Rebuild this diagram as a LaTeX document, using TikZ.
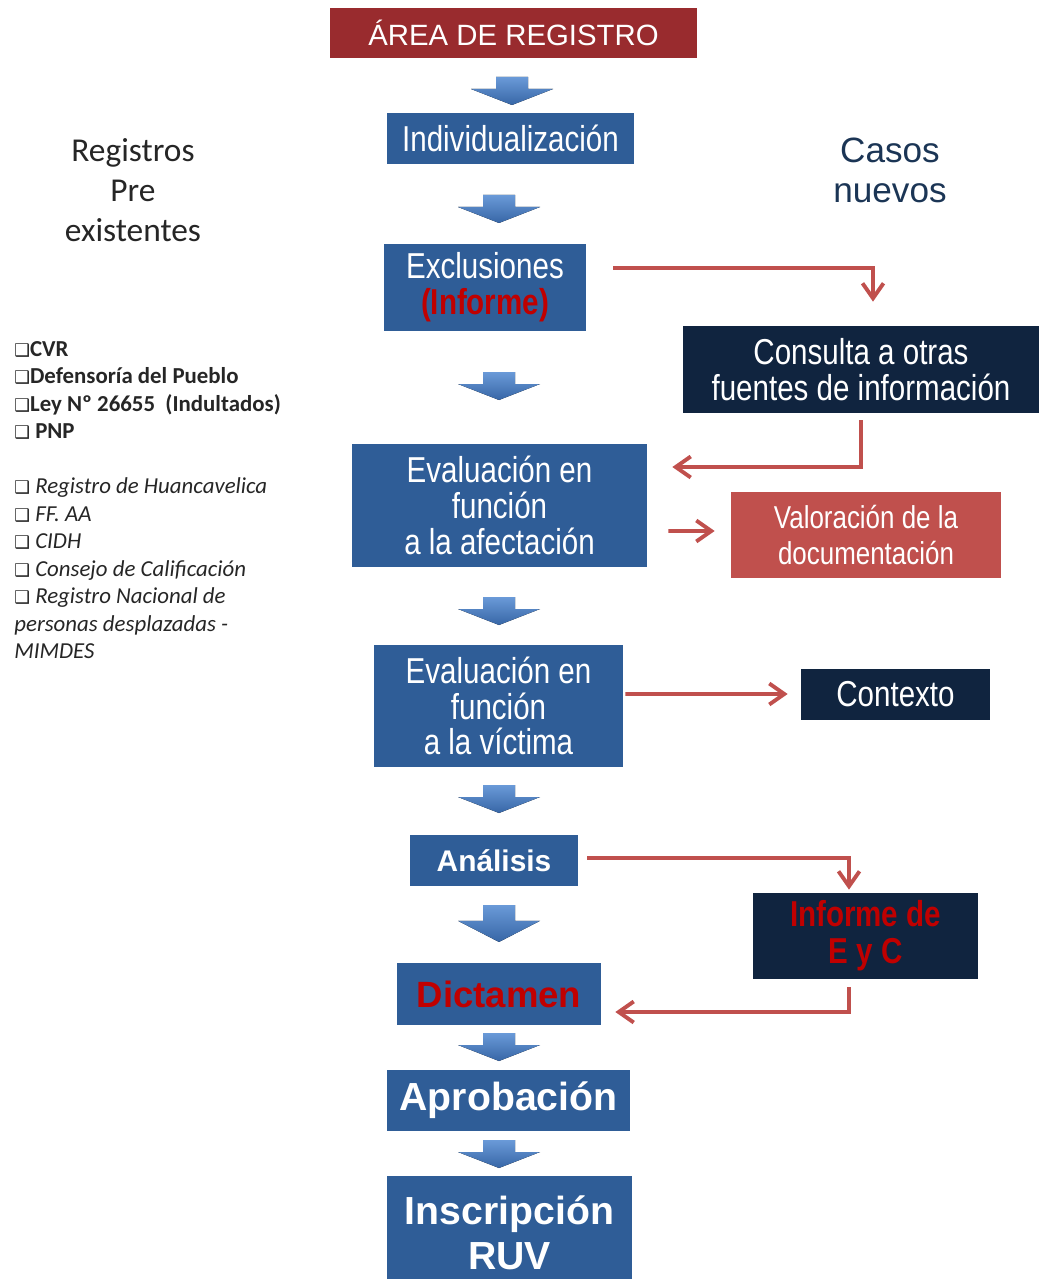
\documentclass[tikz,border=0pt]{standalone}
\usepackage{fontspec}
\setmainfont{Liberation Sans}
\newfontfamily\narrowfont{Liberation Sans}[FakeStretch=0.82]
\newfontfamily\califont{Carlito}
\newfontfamily\symbfont{DejaVu Sans}
\usepackage{xcolor}
\usepackage{tikz}
\usetikzlibrary{arrows.meta,positioning,calc}
\definecolor{boxblue}{HTML}{2F5D97}
\definecolor{boxnavy}{HTML}{10243F}
\definecolor{titlered}{HTML}{992B2E}
\definecolor{softred}{HTML}{C0504D}
\definecolor{textred}{HTML}{C00000}
\definecolor{slateblue}{HTML}{1B3555}
\definecolor{arrlight}{HTML}{6A9AD8}
\definecolor{arrdark}{HTML}{3766A6}
\newcommand{\chk}{{\symbfont\fontsize{10}{15.65}\selectfont ❑}}
\newcommand{\bchk}{\bfseries\chk}
\newcommand{\ichk}{\itshape\chk\ }
\tikzset{
  titlebox/.style={fill=titlered, text=white, align=center, inner sep=2pt,
                   font=\fontsize{16.7}{20}\selectfont},
  bluebox/.style={fill=boxblue, text=white, align=center, inner sep=2pt,
                  font=\narrowfont\fontsize{20.5}{20.4}\selectfont},
  navybox/.style={fill=boxnavy, text=white, align=center, inner sep=2pt,
                  font=\narrowfont\fontsize{20.5}{20.4}\selectfont},
  redbox/.style={fill=softred, text=white, align=center, inner sep=2pt,
                 font=\narrowfont\fontsize{18}{20}\selectfont},
  boldbox/.style={bluebox, font=\bfseries\fontsize{22.3}{25.5}\selectfont},
  flowarr/.style={draw=softred, line width=2.2pt, -{Straight Barb[length=3mm,width=4.2mm]}},
  blockarr/.pic={
    \fill[top color=arrlight, bottom color=arrdark]
      (-0.32,0) -- (0.32,0) -- (0.32,-0.24) -- (0.82,-0.24) -- (0,-0.56)
      -- (-0.82,-0.24) -- (-0.32,-0.24) -- cycle;
  },
}

\begin{document}
\begin{tikzpicture}[font=\fontsize{12}{14}\selectfont]
    \useasboundingbox (0,0) rectangle (20.78,-25.58);
    \node[titlebox, minimum width=7.34cm, minimum height=1.0cm] (area) at (10.27,-0.66) {ÁREA DE REGISTRO};
    \node[bluebox, minimum width=4.94cm, minimum height=1.02cm] (indiv) at (10.21,-2.77) {Individualización};
    \node[bluebox, minimum width=4.04cm, minimum height=1.74cm] (excl) at (9.70,-5.75)
      {Exclusiones\\{\bfseries\color{textred}(Informe)}};
    \node[bluebox, minimum width=5.90cm, minimum height=2.46cm] (evafe) at (9.99,-10.11)
      {Evaluación en\\función\\a la afectación};
    \node[bluebox, minimum width=4.98cm, minimum height=2.44cm] (evvic) at (9.97,-14.12)
      {Evaluación en\\función\\a la víctima};
    \node[bluebox, minimum width=3.36cm, minimum height=1.02cm, font=\bfseries\fontsize{17}{20}\selectfont] (anal) at (9.88,-17.21) {Análisis};
    \node[bluebox, minimum width=4.08cm, minimum height=1.24cm, text=textred, font=\bfseries\fontsize{20.8}{24}\selectfont] (dict) at (9.98,-19.88) {Dictamen};
    \node[boldbox, minimum width=4.86cm, minimum height=1.22cm] (aprob) at (10.17,-22.01) {Aprobación};
    \node[boldbox, minimum width=4.90cm, minimum height=2.28cm] (inscr) at (10.19,-24.66) {Inscripción\\RUV};

    \node[navybox, minimum width=7.12cm, minimum height=1.74cm] (consulta) at (17.22,-7.39)
      {Consulta a otras\\fuentes de información};
    \node[redbox, minimum width=5.40cm, minimum height=1.72cm] (valor) at (17.32,-10.70)
      {Valoración de la\\documentación};
    \node[navybox, minimum width=3.78cm, minimum height=1.02cm] (contexto) at (17.91,-13.89) {Contexto};
    \node[navybox, minimum width=4.50cm, minimum height=1.72cm, text=textred, font=\narrowfont\bfseries\fontsize{20.5}{21}\selectfont] (infEC) at (17.31,-18.72)
      {Informe de\\E y C};

    \node[align=center, text=black!85, font=\califont\fontsize{19}{22.7}\selectfont] (regpre) at (2.66,-3.80)
      {Registros\\Pre\\existentes};
    \node[align=center, text=slateblue, font=\fontsize{20}{22.7}\selectfont] (casos) at (17.80,-3.40)
      {Casos\\nuevos};
    \node[anchor=west, align=left, inner sep=0pt, text=black!85, font=\califont\fontsize{13}{15.65}\selectfont] (fuentes) at (0.28,-10.0)
      {\bchk CVR\\
       \bchk Defensoría del Pueblo\\
       \bchk Ley Nº 26655 \ (Indultados)\\
       \bchk\ PNP\\[15.65pt]
       \ichk Registro de Huancavelica\\
       \ichk FF. AA\\
       \ichk CIDH\\
       \ichk Consejo de Calificación\\
       \ichk Registro Nacional de\\
       \itshape personas desplazadas -\\
       \itshape MIMDES};

    \pic at (10.24,-1.54) {blockarr};
    \foreach \y in {3.90,7.44,11.94,15.70,20.66,22.80}
      \pic at (9.98,-\y) {blockarr};
    \pic[yscale=1.32] at (9.98,-18.10) {blockarr};

    \draw[flowarr] ($(excl.east)+(0.54,0.39)$) -| ($(consulta.north)+(0.24,0.48)$);
    \draw[flowarr] ($(consulta.south)+(0,-0.14)$) |- ($(evafe.east)+(0.50,0.77)$);
    \draw[flowarr] ($(evafe.east)+(0.42,-0.51)$) -- ($(valor.west)+(-0.32,0.08)$);
    \draw[flowarr] ($(evvic.east)+(0.04,0.24)$) -- ($(contexto.west)+(-0.26,0.01)$);
    \draw[flowarr] ($(anal.east)+(0.18,0.05)$) -| ($(infEC.north)+(-0.33,0.06)$);
    \draw[flowarr] ($(infEC.south)+(-0.33,-0.16)$) |- ($(dict.east)+(0.28,-0.36)$);
  \end{tikzpicture}
\end{document}
